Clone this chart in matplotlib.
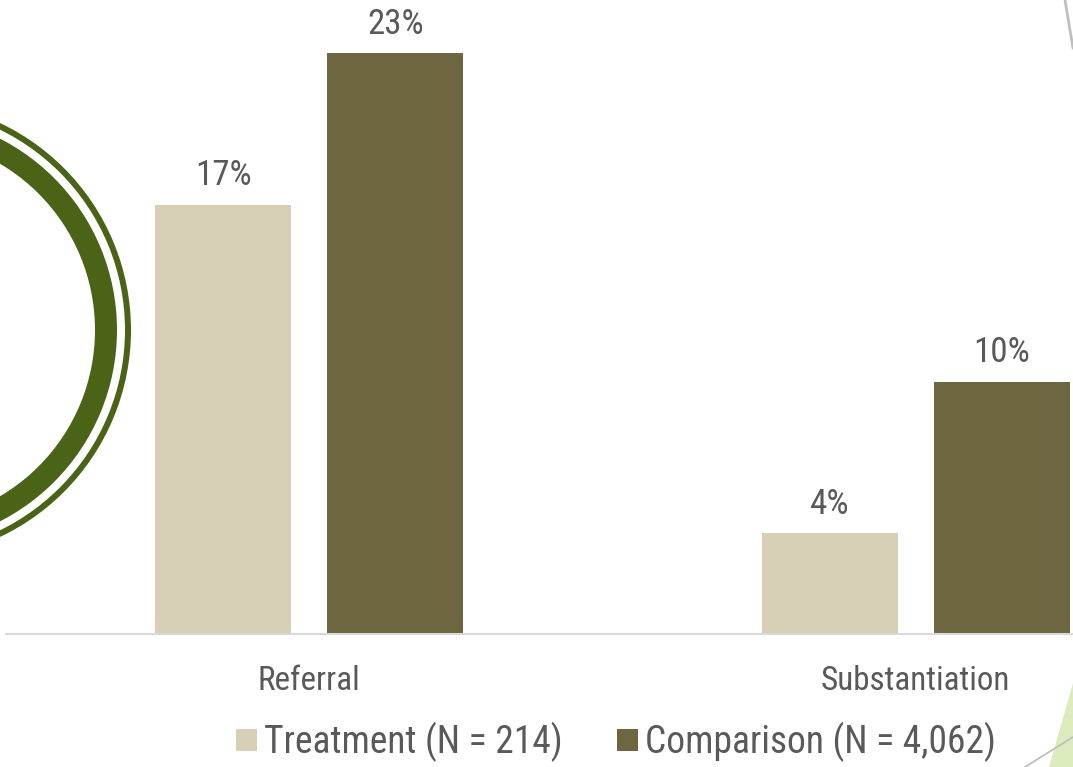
import matplotlib
matplotlib.use("Agg")
import matplotlib.pyplot as plt
from matplotlib import font_manager
from matplotlib.font_manager import FontProperties
from matplotlib.textpath import TextPath
from matplotlib.patches import Wedge, Polygon
import numpy as np

categories = ["Referral", "Substantiation"]
treatment = [17, 4]
comparison = [23, 10]
series_labels = ["Treatment (N = 214)", "Comparison (N = 4,062)"]

# pick the narrowest available sans family
FAMILY = "Liberation Sans"
for cand in ["Liberation Sans Narrow", "Roboto Condensed", "Open Sans Condensed",
             "DejaVu Sans Condensed", "Roboto", "Liberation Sans"]:
    try:
        font_manager.findfont(FontProperties(family=cand), fallback_to_default=False)
        FAMILY = cand
        break
    except Exception:
        pass
plt.rcParams["font.family"] = [FAMILY, "DejaVu Sans"]

DPI = 100


def fit_size(texts_targets):
    """font size (pt) so that rendered ink widths match target pixel widths"""
    fp = FontProperties(family=FAMILY)
    ratios = []
    for s, tgt in texts_targets:
        w = TextPath((0, 0), s, size=100, prop=fp).get_extents().width  # pt at 100pt
        ratios.append(tgt / (w * DPI / 72.0))
    return 100 * float(np.mean(ratios))


fs_val = fit_size([("17%", 53), ("23%", 53)])
fs_cat = fit_size([("Referral", 97), ("Substantiation", 188)])
fs_leg = fit_size([(series_labels[0], 292), (series_labels[1], 351)])

W, H = 1073, 767
fig = plt.figure(figsize=(W / DPI, H / DPI), dpi=DPI)
fig.patch.set_facecolor("white")

C_T = "#D7D0B7"
C_C = "#6E6541"
TXT = "#595959"

left_px, right_px, base_px = 6, 1219, 634
ax = fig.add_axes([left_px / W, (H - base_px) / H, (right_px - left_px) / W, base_px / H])
ax.set_facecolor("none")
x = np.arange(len(categories))
bw = 0.224
off = 0.1417
b1 = ax.bar(x - off, treatment, bw, color=C_T, label=series_labels[0], zorder=2)
b2 = ax.bar(x + off, comparison, bw, color=C_C, label=series_labels[1], zorder=2)
ax.set_xlim(-0.5, 1.5)
ax.set_ylim(0, base_px / 25.25)
for bars, vals in ((b1, treatment), (b2, comparison)):
    for r, v in zip(bars, vals):
        ax.annotate(f"{v}%", (r.get_x() + r.get_width() / 2, v), xytext=(0, 14),
                    textcoords="offset points", ha="center", va="baseline",
                    fontsize=fs_val, color=TXT)
for s in ["top", "right", "left"]:
    ax.spines[s].set_visible(False)
ax.spines["bottom"].set_color("#D9D9D9")
ax.spines["bottom"].set_linewidth(1.5)
ax.set_yticks([])
ax.set_xticks(x)
ax.set_xticklabels(categories, fontsize=fs_cat, color=TXT)
ax.tick_params(axis="x", length=0, pad=22)

fs_px = fs_leg * DPI / 72.0
fig.legend(handles=[b1, b2], labels=series_labels, loc="center",
           bbox_to_anchor=(616 / W, 1 - 742 / H), ncol=2, frameon=False,
           fontsize=fs_leg, labelcolor=TXT, handlelength=21 / fs_px,
           handleheight=20 / fs_px, handletextpad=7 / fs_px,
           columnspacing=55 / fs_px, borderaxespad=0, borderpad=0)

# decorative overlay in pixel coords
ov = fig.add_axes([0, 0, 1, 1], zorder=5)
ov.set_xlim(0, W)
ov.set_ylim(H, 0)
ov.axis("off")
ov.patch.set_alpha(0)
green = "#4A6316"
cx, cy = -98, 330
ov.add_patch(Wedge((cx, cy), 229, 0, 360, width=6, color=green, lw=0))
ov.add_patch(Wedge((cx, cy), 215, 0, 360, width=22, color=green, lw=0))
ov.add_patch(Polygon([(1073, 683), (1049, 767), (1090, 767), (1090, 683)],
                     closed=True, color="#DCEBBE", lw=0))
ov.plot([1025, 1073], [767, 737], color="#BFBFBF", lw=1.3)
ov.plot([1065, 1073], [0, 48], color="#BFBFBF", lw=2)

fig.savefig("out.png", dpi=DPI)
